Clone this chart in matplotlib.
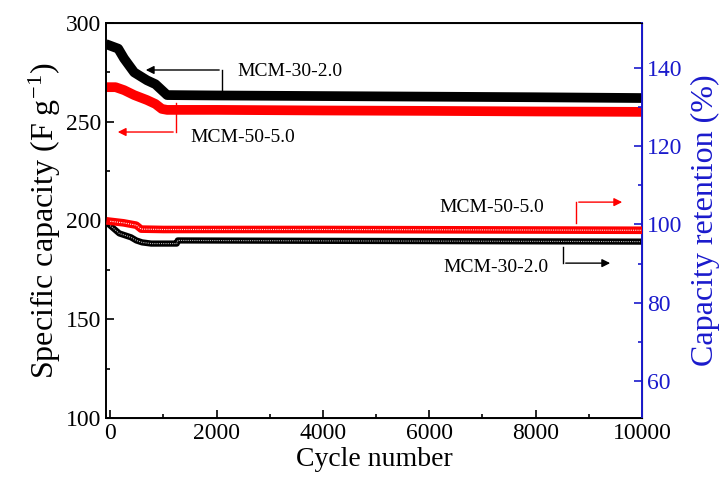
import matplotlib
matplotlib.use("Agg")
import matplotlib.pyplot as plt

plt.rcParams['font.family'] = ['Liberation Serif', 'DejaVu Serif']
plt.rcParams['mathtext.fontset'] = 'stix'

# capacity (left axis)
cyc_cap30 = [0, 150, 260, 450, 690, 850, 970, 1070, 2000, 4000, 6000, 8000, 10000]
cap30 = [288.5, 287, 282, 275, 271, 269, 266, 263.5, 263.3, 263, 262.7, 262.4, 262]
cyc_cap50 = [0, 100, 260, 450, 690, 850, 970, 1070, 2000, 4000, 6000, 8000, 10000]
cap50 = [267.5, 267.5, 266, 263.5, 261, 259, 256.5, 256, 256, 255.7, 255.5, 255.2, 255]

# retention (right axis)
cyc_ret50 = [0, 250, 490, 580, 1000, 4000, 7000, 10000]
ret50 = [100.8, 100.4, 99.8, 98.8, 98.7, 98.7, 98.6, 98.5]
cyc_ret30 = [0, 170, 390, 490, 600, 770, 1250, 1270, 4000, 7000, 10000]
ret30 = [99.7, 97.7, 96.7, 95.9, 95.4, 95.1, 95.1, 95.9, 95.8, 95.7, 95.6]

blue = '#1a1acc'

fig = plt.figure(figsize=(7.24, 4.86), dpi=100)
ax = fig.add_axes([0.1464, 0.1399, 0.7403, 0.8128])
ax2 = ax.twinx()

ax.plot(cyc_cap30, cap30, color='black', lw=7, solid_joinstyle='round', zorder=3)
ax.plot(cyc_cap50, cap50, color='red', lw=7, solid_joinstyle='round', zorder=2)

ax2.plot(cyc_ret50, ret50, color='red', lw=5.5, solid_joinstyle='round', zorder=3)
ax2.plot(cyc_ret50, ret50, color='white', lw=0.8, ls=(0, (1, 1)), zorder=4)
ax2.plot(cyc_ret30, ret30, color='black', lw=4.5, solid_joinstyle='round', zorder=2)
ax2.plot(cyc_ret30, ret30, color='#bbbbbb', lw=0.8, ls=(0, (1, 1)), zorder=2.5)

ax.set_xlim(-80, 10000)
ax.set_ylim(100, 300)
ax2.set_ylim(50.5, 151.5)

ax.set_xticks([0, 2000, 4000, 6000, 8000, 10000])
ax.set_xticks([1000, 3000, 5000, 7000, 9000], minor=True)
ax.set_yticks([100, 150, 200, 250, 300])
ax.set_yticks([125, 175, 225, 275], minor=True)
ax2.set_yticks([60, 80, 100, 120, 140])
ax2.set_yticks([70, 90, 110, 130], minor=True)

ax.tick_params(which='both', direction='in', labelsize=17, top=False)
ax.tick_params(which='major', length=6, width=1.2)
ax.tick_params(which='minor', length=3, width=1.2)
ax2.tick_params(which='both', direction='in', labelsize=17, colors=blue, width=1.2)
ax2.tick_params(which='major', length=6)
ax2.tick_params(which='minor', length=3)

for s in ['left', 'bottom', 'top']:
    ax.spines[s].set_linewidth(1.4)
ax2.spines['right'].set_color(blue)
ax2.spines['right'].set_linewidth(1.4)
ax2.spines['left'].set_visible(False)

ax.set_xlabel('Cycle number', fontsize=20, labelpad=2)
ax.set_ylabel('Specific capacity (F g$^{\\mathregular{-1}}$)', fontsize=23, labelpad=2)
ax2.set_ylabel('Capacity retention (%)', fontsize=23, color=blue, labelpad=6)

# annotations
ax.annotate('', xy=(616, 276.2), xytext=(2101, 276.2),
            arrowprops=dict(arrowstyle='-|>', color='black', lw=1, mutation_scale=12))
ax.plot([2101, 2101], [265.6, 276.2], color='black', lw=1)
ax.text(2384, 275.2, 'MCM-30-2.0', fontsize=14, va='center', ha='left')

ax.annotate('', xy=(89, 244.8), xytext=(1236, 244.8),
            arrowprops=dict(arrowstyle='-|>', color='red', lw=1, mutation_scale=12))
ax.plot([1236, 1236], [259.5, 244.8], color='red', lw=1)
ax.text(1500, 241.8, 'MCM-50-5.0', fontsize=14, va='center', ha='left')

ax2.annotate('', xy=(9680, 105.7), xytext=(8759, 105.7),
             arrowprops=dict(arrowstyle='-|>', color='red', lw=1, mutation_scale=12))
ax2.plot([8759, 8759], [100.4, 105.7], color='red', lw=1)
ax2.text(7179, 104.2, 'MCM-50-5.0', fontsize=14, va='center', ha='center')

ax2.annotate('', xy=(9454, 90.1), xytext=(8514, 90.1),
             arrowprops=dict(arrowstyle='-|>', color='black', lw=1, mutation_scale=12))
ax2.plot([8514, 8514], [94.2, 90.1], color='black', lw=1)
ax2.text(7254, 89.1, 'MCM-30-2.0', fontsize=14, va='center', ha='center')

fig.savefig('out.png', dpi=100)
